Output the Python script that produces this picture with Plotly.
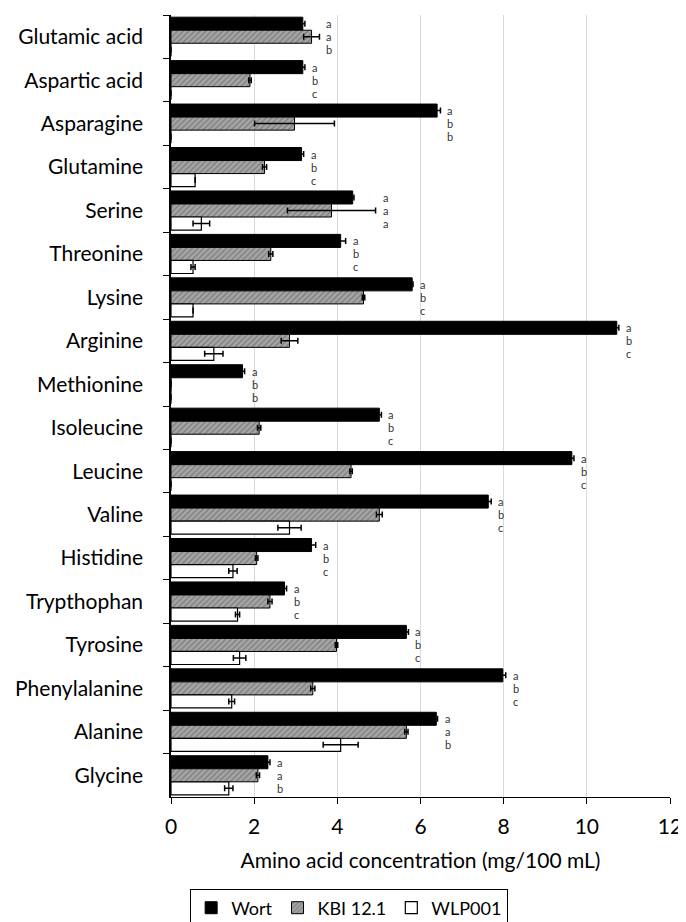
import plotly.graph_objects as go

categories = ["Glutamic acid", "Aspartic acid", "Asparagine", "Glutamine", "Serine",
              "Threonine", "Lysine", "Arginine", "Methionine", "Isoleucine", "Leucine",
              "Valine", "Histidine", "Trypthophan", "Tyrosine", "Phenylalanine",
              "Alanine", "Glycine"]

wort = [3.17, 3.17, 6.40, 3.14, 4.37, 4.08, 5.80, 10.72, 1.72, 5.01, 9.64, 7.63,
        3.38, 2.73, 5.66, 7.98, 6.38, 2.33]
wort_err = [0.05, 0.05, 0.08, 0.05, 0.03, 0.12, 0.02, 0.05, 0.05, 0.05, 0.05, 0.07,
            0.10, 0.05, 0.05, 0.07, 0.03, 0.05]

kbi = [3.38, 1.90, 2.97, 2.25, 3.86, 2.40, 4.63, 2.85, 0.0, 2.12, 4.33, 5.01,
       2.06, 2.38, 3.98, 3.41, 5.66, 2.09]
kbi_err = [0.19, 0.03, 0.96, 0.05, 1.06, 0.05, 0.03, 0.20, 0.0, 0.04, 0.03, 0.07,
           0.03, 0.05, 0.03, 0.05, 0.04, 0.04]

wlp = [0.0, 0.0, 0.0, 0.58, 0.73, 0.53, 0.53, 1.03, 0.0, 0.0, 0.0, 2.85,
       1.49, 1.60, 1.65, 1.46, 4.08, 1.39]
wlp_err = [0.0, 0.0, 0.0, 0.0, 0.20, 0.05, 0.0, 0.22, 0.0, 0.0, 0.0, 0.28,
           0.10, 0.05, 0.15, 0.07, 0.42, 0.10]

letters = ["aab", "abc", "abb", "abc", "aaa", "abc", "abc", "abc", "abb", "abc",
           "abc", "abc", "abc", "abc", "abc", "abc", "aab", "aab"]

FONT = "Lato, 'Open Sans', sans-serif"

fig = go.Figure()
err_style = dict(type="data", color="black", thickness=1.5, width=3)

fig.add_trace(go.Bar(
    name="Wort", y=categories, x=wort, orientation="h",
    marker=dict(color="black", line=dict(color="black", width=1)),
    error_x=dict(array=wort_err, **err_style)))
fig.add_trace(go.Bar(
    name="KBI 12.1", y=categories, x=kbi, orientation="h",
    marker=dict(color="#9a9a9a", line=dict(color="black", width=1),
                pattern=dict(shape="/", fgcolor="#555555", bgcolor="#a6a6a6",
                             size=4, solidity=0.35)),
    error_x=dict(array=kbi_err, **err_style)))
fig.add_trace(go.Bar(
    name="WLP001", y=categories, x=wlp, orientation="h",
    marker=dict(color="white", line=dict(color="black", width=1.2)),
    error_x=dict(array=wlp_err, **err_style)))

annotations = []
for i, cat in enumerate(categories):
    xmax = max(wort[i] + wort_err[i], kbi[i] + kbi_err[i], wlp[i] + wlp_err[i])
    for j, shift in enumerate([13, 0, -13]):
        annotations.append(dict(
            x=xmax, y=cat, xref="x", yref="y", text=letters[i][j],
            showarrow=False, xanchor="left", yanchor="middle",
            xshift=5, yshift=shift,
            font=dict(family=FONT, size=11, color="#333333")))

# page body has an 8px default margin; compensate so the plot lands where the reference has it
fig.update_layout(
    width=678, height=922,
    margin=dict(l=163, r=16, t=7, b=133),
    paper_bgcolor="white", plot_bgcolor="white",
    barmode="group", bargap=0.1, bargroupgap=0.0,
    font=dict(family=FONT, size=21, color="black"),
    annotations=annotations,
    showlegend=True,
    legend=dict(orientation="h", x=0.357, xanchor="center",
                yref="container", y=0.045, yanchor="top",
                bordercolor="black", borderwidth=1, font=dict(size=18),
                itemwidth=30, traceorder="normal"),
    xaxis=dict(range=[0, 12], dtick=2, showgrid=True, gridcolor="#d9d9d9",
               gridwidth=1, showline=True, linecolor="black", linewidth=1,
               ticks="outside", ticklen=6, tickcolor="black", zeroline=False,
               tickfont=dict(size=21), automargin=False, ticklabelstandoff=5,
               title=dict(text="Amino acid concentration (mg/100 mL)",
                          font=dict(size=21), standoff=16)),
    yaxis=dict(autorange="reversed", showline=True, linecolor="black", linewidth=1.5,
               ticks="outside", ticklen=6, tickcolor="black", tickson="boundaries",
               showgrid=False, tickfont=dict(size=21), ticklabelstandoff=22,
               automargin=False),
)

fig.write_html("out.html")
